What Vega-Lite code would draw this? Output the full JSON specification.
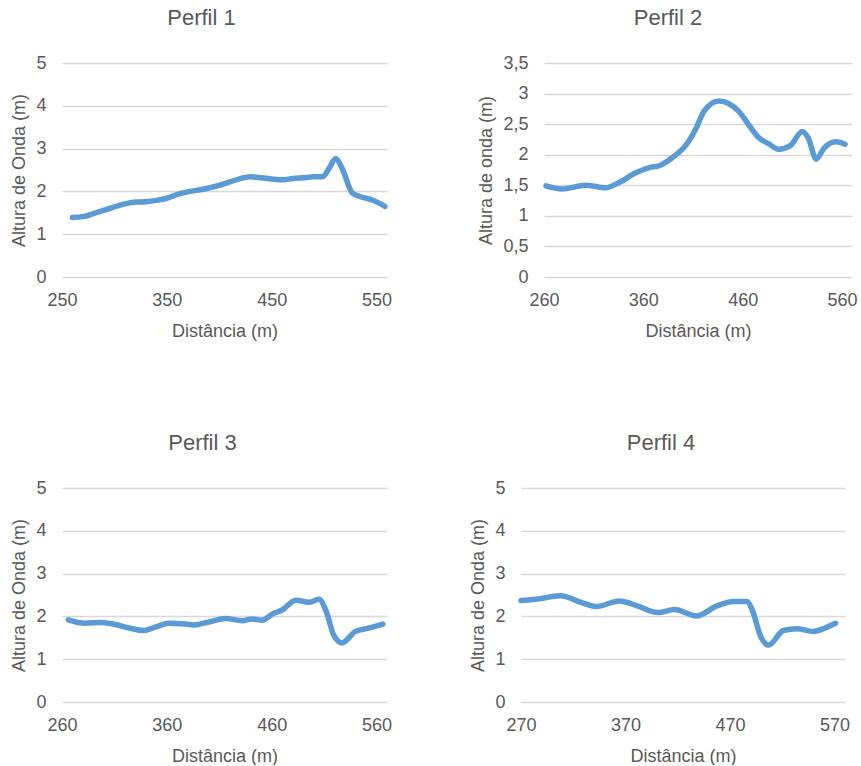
{
  "$schema": "https://vega.github.io/schema/vega-lite/v6.json",
  "background": "white",
  "padding": {"left": 10, "top": 7, "right": 0, "bottom": 0},
  "config": {
    "font": "Liberation Sans",
    "view": {"stroke": null},
    "axis": {
      "labelColor": "#595959",
      "titleColor": "#595959",
      "labelFontSize": 18,
      "titleFontSize": 18,
      "titleFontWeight": "normal",
      "domain": false,
      "ticks": false,
      "tickSize": 0,
      "labelFlush": false,
      "labelOverlap": false
    },
    "axisX": {"grid": false, "labelPadding": 14, "titlePadding": 13},
    "axisY": {"grid": true, "gridColor": "#d9d9d9", "gridWidth": 1.5, "labelPadding": 16, "titlePadding": 7},
    "title": {"fontSize": 22, "fontWeight": "normal", "color": "#595959", "offset": 24, "anchor": "middle", "frame": "group"},
    "line": {"color": "#5b9bd5", "strokeWidth": 5.5, "interpolate": "monotone", "strokeCap": "round", "strokeJoin": "round"}
  },
  "bounds": "flush",
  "spacing": 425,
  "vconcat": [
    {
      "bounds": "flush",
      "spacing": 157,
      "hconcat": [
        {
          "width": 325, "height": 214,
          "title": {"text": "Perfil 1", "dx": -23},
          "data": {"values": [
            {"d": 260, "h": 1.39}, {"d": 270, "h": 1.41}, {"d": 280, "h": 1.48}, {"d": 290, "h": 1.56},
            {"d": 300, "h": 1.64}, {"d": 310, "h": 1.71}, {"d": 320, "h": 1.75}, {"d": 330, "h": 1.76},
            {"d": 340, "h": 1.79}, {"d": 350, "h": 1.84}, {"d": 360, "h": 1.93}, {"d": 370, "h": 1.99},
            {"d": 380, "h": 2.03}, {"d": 390, "h": 2.08}, {"d": 400, "h": 2.14}, {"d": 410, "h": 2.22},
            {"d": 420, "h": 2.3}, {"d": 430, "h": 2.34}, {"d": 440, "h": 2.32}, {"d": 450, "h": 2.29},
            {"d": 460, "h": 2.27}, {"d": 470, "h": 2.3}, {"d": 480, "h": 2.32}, {"d": 490, "h": 2.34},
            {"d": 499, "h": 2.35}, {"d": 505, "h": 2.55}, {"d": 511, "h": 2.77}, {"d": 517, "h": 2.55},
            {"d": 527, "h": 1.96}, {"d": 537, "h": 1.86}, {"d": 546, "h": 1.8}, {"d": 558, "h": 1.65}
          ]},
          "mark": "line",
          "encoding": {
            "x": {"field": "d", "type": "quantitative", "scale": {"domain": [250, 560], "nice": false, "zero": false},
                  "axis": {"values": [250, 350, 450, 550], "title": "Distância (m)"}},
            "y": {"field": "h", "type": "quantitative", "scale": {"domain": [0, 5], "nice": false},
                  "axis": {"values": [0, 1, 2, 3, 4, 5], "title": "Altura de Onda (m)"}}
          }
        },
        {
          "width": 308, "height": 214,
          "title": {"text": "Perfil 2", "dx": -30},
          "data": {"values": [
            {"d": 262, "h": 1.49}, {"d": 278, "h": 1.44}, {"d": 302, "h": 1.5}, {"d": 322, "h": 1.46},
            {"d": 335, "h": 1.54}, {"d": 352, "h": 1.7}, {"d": 366, "h": 1.79}, {"d": 376, "h": 1.82},
            {"d": 389, "h": 1.95}, {"d": 403, "h": 2.16}, {"d": 413, "h": 2.43}, {"d": 421, "h": 2.71},
            {"d": 436, "h": 2.88}, {"d": 456, "h": 2.71}, {"d": 466, "h": 2.49}, {"d": 476, "h": 2.28},
            {"d": 486, "h": 2.18}, {"d": 496, "h": 2.09}, {"d": 508, "h": 2.15}, {"d": 520, "h": 2.38},
            {"d": 526, "h": 2.27}, {"d": 534, "h": 1.93}, {"d": 542, "h": 2.11}, {"d": 554, "h": 2.21},
            {"d": 563, "h": 2.17}
          ]},
          "mark": "line",
          "encoding": {
            "x": {"field": "d", "type": "quantitative", "scale": {"domain": [260, 570], "nice": false, "zero": false},
                  "axis": {"values": [260, 360, 460, 560], "title": "Distância (m)"}},
            "y": {"field": "h", "type": "quantitative", "scale": {"domain": [0, 3.5], "nice": false},
                  "axis": {"values": [0, 0.5, 1, 1.5, 2, 2.5, 3, 3.5], "labelExpr": "replace(toString(datum.value), '.', ',')", "title": "Altura de onda (m)"}}
          }
        }
      ]
    },
    {
      "bounds": "flush",
      "spacing": 134,
      "hconcat": [
        {
          "width": 325, "height": 214,
          "title": {"text": "Perfil 3", "dx": -22},
          "data": {"values": [
            {"d": 266, "h": 1.92}, {"d": 282, "h": 1.84}, {"d": 298, "h": 1.86}, {"d": 311, "h": 1.81},
            {"d": 324, "h": 1.73}, {"d": 338, "h": 1.67}, {"d": 349, "h": 1.75}, {"d": 362, "h": 1.84},
            {"d": 375, "h": 1.83}, {"d": 386, "h": 1.8}, {"d": 400, "h": 1.87}, {"d": 416, "h": 1.95},
            {"d": 432, "h": 1.9}, {"d": 441, "h": 1.94}, {"d": 451, "h": 1.91}, {"d": 461, "h": 2.06},
            {"d": 470, "h": 2.15}, {"d": 483, "h": 2.38}, {"d": 496, "h": 2.33}, {"d": 505, "h": 2.4},
            {"d": 512, "h": 2.12}, {"d": 519, "h": 1.57}, {"d": 527, "h": 1.38}, {"d": 540, "h": 1.65},
            {"d": 553, "h": 1.73}, {"d": 566, "h": 1.82}
          ]},
          "mark": "line",
          "encoding": {
            "x": {"field": "d", "type": "quantitative", "scale": {"domain": [260, 570], "nice": false, "zero": false},
                  "axis": {"values": [260, 360, 460, 560], "title": "Distância (m)"}},
            "y": {"field": "h", "type": "quantitative", "scale": {"domain": [0, 5], "nice": false},
                  "axis": {"values": [0, 1, 2, 3, 4, 5], "title": "Altura de Onda (m)"}}
          }
        },
        {
          "width": 324, "height": 214,
          "title": {"text": "Perfil 4", "dx": -22},
          "data": {"values": [
            {"d": 270, "h": 2.37}, {"d": 284, "h": 2.4}, {"d": 308, "h": 2.48}, {"d": 326, "h": 2.34},
            {"d": 342, "h": 2.23}, {"d": 364, "h": 2.36}, {"d": 380, "h": 2.26}, {"d": 401, "h": 2.09},
            {"d": 417, "h": 2.16}, {"d": 438, "h": 2.01}, {"d": 457, "h": 2.24}, {"d": 473, "h": 2.35},
            {"d": 486, "h": 2.35}, {"d": 492, "h": 2.1}, {"d": 499, "h": 1.55}, {"d": 507, "h": 1.33},
            {"d": 521, "h": 1.67}, {"d": 534, "h": 1.71}, {"d": 550, "h": 1.65}, {"d": 561, "h": 1.73},
            {"d": 571, "h": 1.84}
          ]},
          "mark": "line",
          "encoding": {
            "x": {"field": "d", "type": "quantitative", "scale": {"domain": [270, 580], "nice": false, "zero": false},
                  "axis": {"values": [270, 370, 470, 570], "title": "Distância (m)"}},
            "y": {"field": "h", "type": "quantitative", "scale": {"domain": [0, 5], "nice": false},
                  "axis": {"values": [0, 1, 2, 3, 4, 5], "title": "Altura de Onda (m)"}}
          }
        }
      ]
    }
  ]
}
